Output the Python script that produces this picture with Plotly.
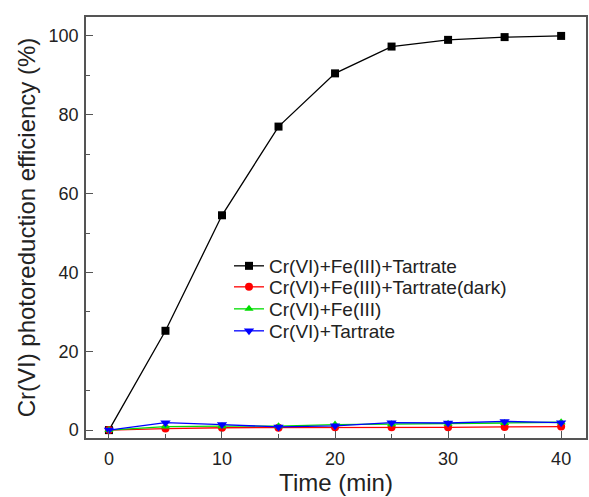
import plotly.graph_objects as go

time_min = [0, 5, 10, 15, 20, 25, 30, 35, 40]

fe_tartrate = [0, 25.2, 54.5, 77.0, 90.5, 97.3, 99.0, 99.7, 100.0]
fe_tartrate_dark = [0, 0.4, 0.6, 0.6, 0.7, 0.7, 0.7, 0.8, 0.9]
fe_only = [0, 0.9, 1.0, 1.0, 1.4, 1.5, 1.6, 1.8, 2.0]
tartrate_only = [0, 1.9, 1.4, 0.8, 1.1, 1.9, 1.8, 2.2, 1.9]

series = [
    ("Cr(VI)+Fe(III)+Tartrate", fe_tartrate, "#000000", "square", 8),
    ("Cr(VI)+Fe(III)+Tartrate(dark)", fe_tartrate_dark, "#ff0000", "circle", 8),
    ("Cr(VI)+Fe(III)", fe_only, "#00dd00", "triangle-up", 8),
    ("Cr(VI)+Tartrate", tartrate_only, "#0000ff", "triangle-down", 9),
]

font_family = "Liberation Sans, Arial"

# one legend per series so the rows can be spaced tightly
legend_ids = ["legend", "legend2", "legend3", "legend4"]
legend_rows_y = [0.4086, 0.3587, 0.3064, 0.2542]

fig = go.Figure()
for (name, vals, color, symbol, size), lid in zip(series, legend_ids):
    fig.add_trace(go.Scatter(
        x=time_min, y=vals, name=name, mode="lines+markers",
        line=dict(color=color, width=1.3),
        marker=dict(symbol=symbol, size=size, color=color),
        legend=lid, showlegend=True,
    ))

axis_common = dict(
    showline=True, linecolor="#555555", linewidth=1.5, mirror=True,
    ticks="inside", ticklen=7, tickwidth=1.3, tickcolor="#555555",
    showgrid=False, zeroline=False,
    tickfont=dict(family=font_family, size=18, color="#222222"),
    title_font=dict(family=font_family, size=24, color="#222222"),
)

fig.update_xaxes(
    range=[-2.03, 42.2], tickvals=[0, 10, 20, 30, 40],
    minor=dict(tickvals=[5, 15, 25, 35], ticks="inside", ticklen=4, tickcolor="#555555"),
    ticklabelstandoff=4,
    title_text="Time (min)", title_standoff=6, **axis_common,
)
fig.update_yaxes(
    range=[-2.0, 104.8], tickvals=[0, 20, 40, 60, 80, 100],
    minor=dict(tickvals=[10, 30, 50, 70, 90], ticks="inside", ticklen=4, tickcolor="#555555"),
    ticklabelstandoff=2,
    title_text="Cr(VI) photoreduction efficiency (%)", title_standoff=6, **axis_common,
)

legend_style = dict(
    x=0.286, xanchor="left", yanchor="middle",
    bgcolor="rgba(0,0,0,0)",
    font=dict(family=font_family, size=19, color="#222222"),
)

fig.update_layout(
    width=589, height=497,
    margin=dict(l=86, r=1, t=17, b=59),
    plot_bgcolor="white", paper_bgcolor="white",
    showlegend=True,
    **{lid: dict(y=ly, **legend_style) for lid, ly in zip(legend_ids, legend_rows_y)},
)

fig.write_html("out.html")
